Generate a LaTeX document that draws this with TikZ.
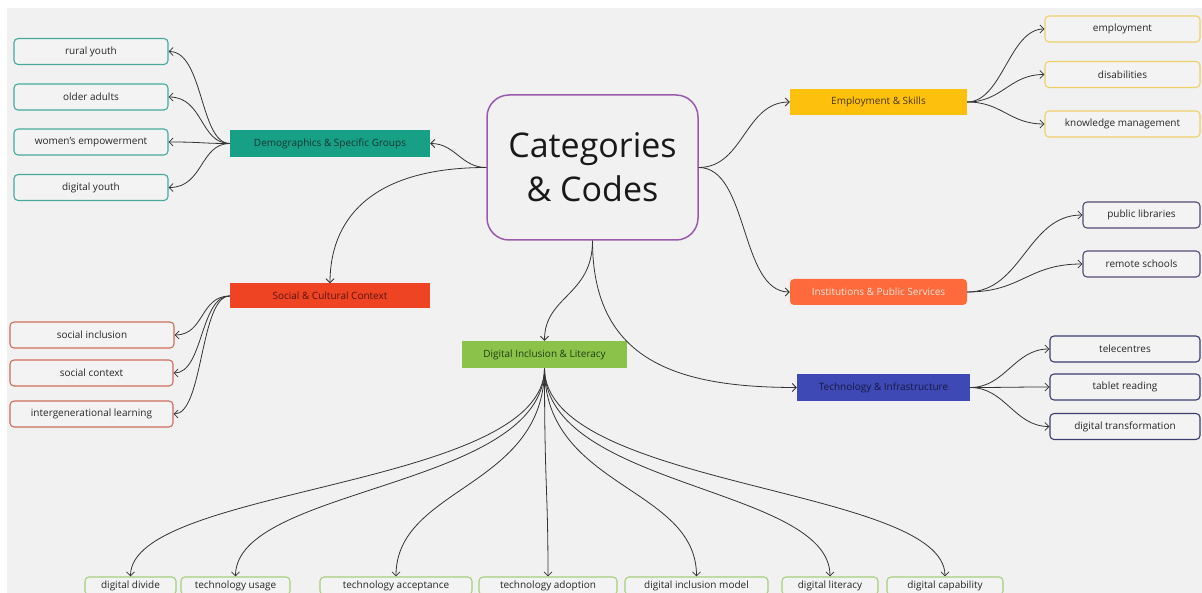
\documentclass[tikz,border=0pt]{standalone}
\usepackage{fontspec}
\setmainfont{Open Sans}
\usetikzlibrary{arrows.meta}
\definecolor{bgc}{HTML}{F1F1F1}
\definecolor{leafbg}{HTML}{F3F3F3}
\definecolor{linec}{HTML}{333333}
\definecolor{purp}{HTML}{9A5AAB}
\definecolor{tealf}{HTML}{17A085}
\definecolor{tealb}{HTML}{45A99C}
\definecolor{tealt}{HTML}{16362F}
\definecolor{redf}{HTML}{EE4424}
\definecolor{redb}{HTML}{CF6D5C}
\definecolor{redt}{HTML}{5A1410}
\definecolor{greenf}{HTML}{8BC34A}
\definecolor{greenb}{HTML}{A6CF7E}
\definecolor{greent}{HTML}{1F3F12}
\definecolor{yelf}{HTML}{FDC10D}
\definecolor{yelb}{HTML}{EFD06A}
\definecolor{yelt}{HTML}{4A3500}
\definecolor{oraf}{HTML}{FF6A3C}
\definecolor{orat}{HTML}{FFE6DA}
\definecolor{orab}{HTML}{574A74}
\definecolor{indf}{HTML}{3F49B6}
\definecolor{indt}{HTML}{141A40}
\definecolor{indb}{HTML}{3B3E6E}
\tikzset{
  leaf/.style={draw, rounded corners=4pt, fill=leafbg, line width=1.1pt, minimum height=26pt, inner sep=0pt, font=\fontsize{10}{12}\selectfont, text=black!85},
  bleaf/.style={leaf, draw=greenb, minimum height=18pt},
  cat/.style={minimum height=26pt, inner sep=0pt, font=\fontsize{10}{12}\selectfont},
  conn/.style={draw=linec, line width=0.8pt, -{Straight Barb[length=4pt,width=8pt]}},
}
\begin{document}
\begin{tikzpicture}[x=1pt,y=-1pt]
\useasboundingbox (0,0) rectangle (1202,593);
\clip (0,0) rectangle (1202,593);
\fill[white] (0,0) rectangle (1202,593);
\fill[bgc] (7,8) rectangle (1202,593);

% central
\node[draw=purp, line width=1.5pt, rounded corners=22pt, fill=bgc, minimum width=211pt, minimum height=145pt, align=center, font=\fontsize{34}{46}\selectfont, text=black!90] (C) at (592.5,167.5) {Categories\\[-2pt]\& Codes};

% categories
\node[cat, fill=tealf, text=tealt, minimum width=200pt, minimum height=27pt] (demo) at (330,143.5) {Demographics \& Specific Groups};
\node[cat, fill=redf, text=redt, minimum width=200pt, minimum height=25pt] (soc) at (330,296) {Social \& Cultural Context};
\node[cat, fill=greenf, text=greent, minimum width=165pt, minimum height=27pt] (dil) at (544.5,354.5) {Digital Inclusion \& Literacy};
\node[cat, fill=yelf, text=yelt, minimum width=177pt] (emp) at (878.5,102) {Employment \& Skills};
\node[cat, fill=oraf, text=orat, minimum width=177pt, rounded corners=4pt] (inst) at (878.5,292) {Institutions \& Public Services};
\node[cat, fill=indf, text=indt, minimum width=173pt, minimum height=27pt] (tech) at (883.5,387.5) {Technology \& Infrastructure};

% demographics leaves
\node[leaf, draw=tealb, minimum width=154pt] (d1) at (91,51.5) {rural youth};
\node[leaf, draw=tealb, minimum width=154pt] (d2) at (91,97) {older adults};
\node[leaf, draw=tealb, minimum width=154pt] (d3) at (91,142) {women's empowerment};
\node[leaf, draw=tealb, minimum width=154pt] (d4) at (91,187.5) {digital youth};

% social leaves
\node[leaf, draw=redb, minimum width=164pt] (s1) at (92,335) {social inclusion};
\node[leaf, draw=redb, minimum width=163pt] (s2) at (91.5,373) {social context};
\node[leaf, draw=redb, minimum width=163pt] (s3) at (91.5,414) {intergenerational learning};

% employment leaves
\node[leaf, draw=yelb, minimum width=155pt] (e1) at (1122.5,29) {employment};
\node[leaf, draw=yelb, minimum width=155pt] (e2) at (1122.5,74.5) {disabilities};
\node[leaf, draw=yelb, minimum width=155pt] (e3) at (1122.5,124) {knowledge management};

% institutions leaves
\node[leaf, draw=orab, minimum width=117pt] (i1) at (1141.5,215) {public libraries};
\node[leaf, draw=orab, minimum width=117pt] (i2) at (1141.5,264) {remote schools};

% technology leaves
\node[leaf, draw=indb, minimum width=150pt] (t1) at (1125,349) {telecentres};
\node[leaf, draw=indb, minimum width=150pt] (t2) at (1125,387) {tablet reading};
\node[leaf, draw=indb, minimum width=150pt] (t3) at (1125,426.5) {digital transformation};

% digital inclusion leaves (bottom)
\node[bleaf, minimum width=91pt] (g1) at (130.5,586) {digital divide};
\node[bleaf, minimum width=109pt] (g2) at (235.5,586) {technology usage};
\node[bleaf, minimum width=152pt] (g3) at (396,586) {technology acceptance};
\node[bleaf, minimum width=138pt] (g4) at (548,586) {technology adoption};
\node[bleaf, minimum width=143pt] (g5) at (696.5,586) {digital inclusion model};
\node[bleaf, minimum width=96pt] (g6) at (830,586) {digital literacy};
\node[bleaf, minimum width=116pt] (g7) at (945,586) {digital capability};

% central connectors
\draw[conn] (C.west) .. controls +(-25,0) and +(25,0) .. (demo.east);
\draw[conn] (C.west) .. controls +(-120,0) and +(0,-60) .. (soc.north);
\draw[conn] (C.east) .. controls +(45,0) and +(-45,0) .. (emp.west);
\draw[conn] (C.east) .. controls +(50,0) and +(-50,0) .. (inst.west);
\draw[conn] (C.south) .. controls +(0,55) and +(0,-45) .. (dil.north);
\draw[conn] (C.south) .. controls +(0,120) and +(-120,0) .. (tech.west);

% children
\foreach \n in {d1,d2,d3,d4}
  \draw[conn] (demo.west) .. controls +(-30,0) and +(35,0) .. (\n.east);
\foreach \n in {s1,s2,s3}
  \draw[conn] (soc.west) .. controls +(-30,0) and +(30,0) .. (\n.east);
\foreach \n in {e1,e2,e3}
  \draw[conn] (emp.east) .. controls +(35,0) and +(-35,0) .. (\n.west);
\foreach \n in {i1,i2}
  \draw[conn] (inst.east) .. controls +(55,0) and +(-55,0) .. (\n.west);
\foreach \n in {t1,t2,t3}
  \draw[conn] (tech.east) .. controls +(35,0) and +(-35,0) .. (\n.west);
\foreach \n in {g1,g2,g3,g4,g5,g6,g7}
  \draw[conn] (dil.south) .. controls +(0,120) and +(0,-90) .. (\n.north);
\end{tikzpicture}
\end{document}
